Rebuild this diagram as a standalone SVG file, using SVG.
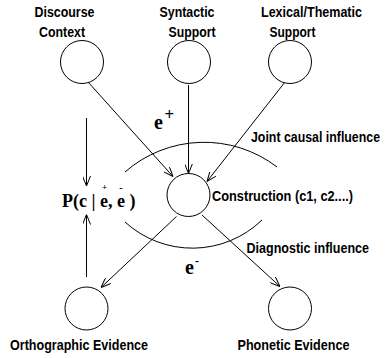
<svg xmlns="http://www.w3.org/2000/svg" width="385" height="358" viewBox="0 0 385 358">
  <style>
    .node { fill: #fff; stroke: #000; stroke-width: 1; }
    .lbl { font-family: "Liberation Sans", Arial, sans-serif; font-weight: bold; font-size: 15px; fill: #000; }
    .math { font-family: "Liberation Serif", "Times New Roman", serif; font-weight: bold; fill: #000; }
    .edge { fill: none; stroke: #000; stroke-width: 1; }
  </style>
  <defs>
    <marker id="arrow" viewBox="0 0 10 8" refX="10" refY="4" markerWidth="10" markerHeight="8" orient="auto" markerUnits="userSpaceOnUse">
      <path d="M0,0 L10,4 L0,8" fill="none" stroke="#000" stroke-width="1"/>
    </marker>
  </defs>
  <rect width="385" height="358" fill="#fff"/>

  <!-- connectors -->
  <g id="connectors">
    <line class="edge" x1="88" y1="82" x2="173" y2="176.5" marker-end="url(#arrow)"/>
    <line class="edge" x1="188.5" y1="85" x2="188.5" y2="173.5" marker-end="url(#arrow)"/>
    <line class="edge" x1="285" y1="82" x2="207" y2="181.5" marker-end="url(#arrow)"/>
    <line class="edge" x1="176.5" y1="216.5" x2="101" y2="287.5" marker-end="url(#arrow)"/>
    <line class="edge" x1="202" y1="215" x2="280" y2="286.5" marker-end="url(#arrow)"/>
    <line class="edge" x1="86.5" y1="118" x2="86.5" y2="186" marker-end="url(#arrow)"/>
    <line class="edge" x1="86.5" y1="277" x2="86.5" y2="214.5" marker-end="url(#arrow)"/>
  </g>

  <!-- influence arcs and their labels -->
  <g id="joint-causal">
    <path class="edge" d="M125,172 A120,120 0 0,1 277,167"/>
    <text class="lbl" x="251" y="142" textLength="129" lengthAdjust="spacingAndGlyphs">Joint causal influence</text>
    <text class="math" x="154" y="128.5" font-size="20">e</text>
    <text class="math" x="164.5" y="119.5" font-size="17">+</text>
  </g>
  <g id="diagnostic">
    <path class="edge" d="M125,222 A100,100 0 0,0 262,220"/>
    <text class="lbl" x="246.5" y="253" textLength="122.5" lengthAdjust="spacingAndGlyphs">Diagnostic influence</text>
    <text class="math" x="185" y="273.5" font-size="20">e</text>
    <text class="math" x="195" y="264.5" font-size="12">-</text>
  </g>

  <!-- posterior -->
  <g id="posterior" class="math">
    <text x="62" y="206.5" font-size="18" xml:space="preserve">P(c | e, e )</text>
    <text x="104.5" y="189.5" font-size="9" text-anchor="middle">+</text>
    <text x="121" y="191" font-size="10" text-anchor="middle">-</text>
  </g>

  <!-- nodes -->
  <g id="discourse-context">
    <circle class="node" cx="82" cy="62" r="21.5"/>
    <text class="lbl" x="34.5" y="17" textLength="60" lengthAdjust="spacingAndGlyphs">Discourse</text>
    <text class="lbl" x="39" y="37" textLength="46" lengthAdjust="spacingAndGlyphs">Context</text>
  </g>
  <g id="syntactic-support">
    <circle class="node" cx="189" cy="62" r="21.5"/>
    <text class="lbl" x="159.5" y="17" textLength="55" lengthAdjust="spacingAndGlyphs">Syntactic</text>
    <text class="lbl" x="168.5" y="37" textLength="47" lengthAdjust="spacingAndGlyphs">Support</text>
  </g>
  <g id="lexical-thematic-support">
    <circle class="node" cx="290" cy="62" r="21.5"/>
    <text class="lbl" x="261" y="17" textLength="101" lengthAdjust="spacingAndGlyphs">Lexical/Thematic</text>
    <text class="lbl" x="269.5" y="37" textLength="46" lengthAdjust="spacingAndGlyphs">Support</text>
  </g>
  <g id="construction">
    <circle class="node" cx="188.5" cy="195" r="21.5"/>
    <text class="lbl" x="212" y="201" textLength="141" lengthAdjust="spacingAndGlyphs">Construction (c1, c2....)</text>
  </g>
  <g id="orthographic-evidence">
    <circle class="node" cx="86.5" cy="308.5" r="21.5"/>
    <text class="lbl" x="10" y="350" textLength="138" lengthAdjust="spacingAndGlyphs">Orthographic Evidence</text>
  </g>
  <g id="phonetic-evidence">
    <circle class="node" cx="290" cy="308.5" r="21.5"/>
    <text class="lbl" x="237.5" y="350" textLength="112" lengthAdjust="spacingAndGlyphs">Phonetic Evidence</text>
  </g>
</svg>
